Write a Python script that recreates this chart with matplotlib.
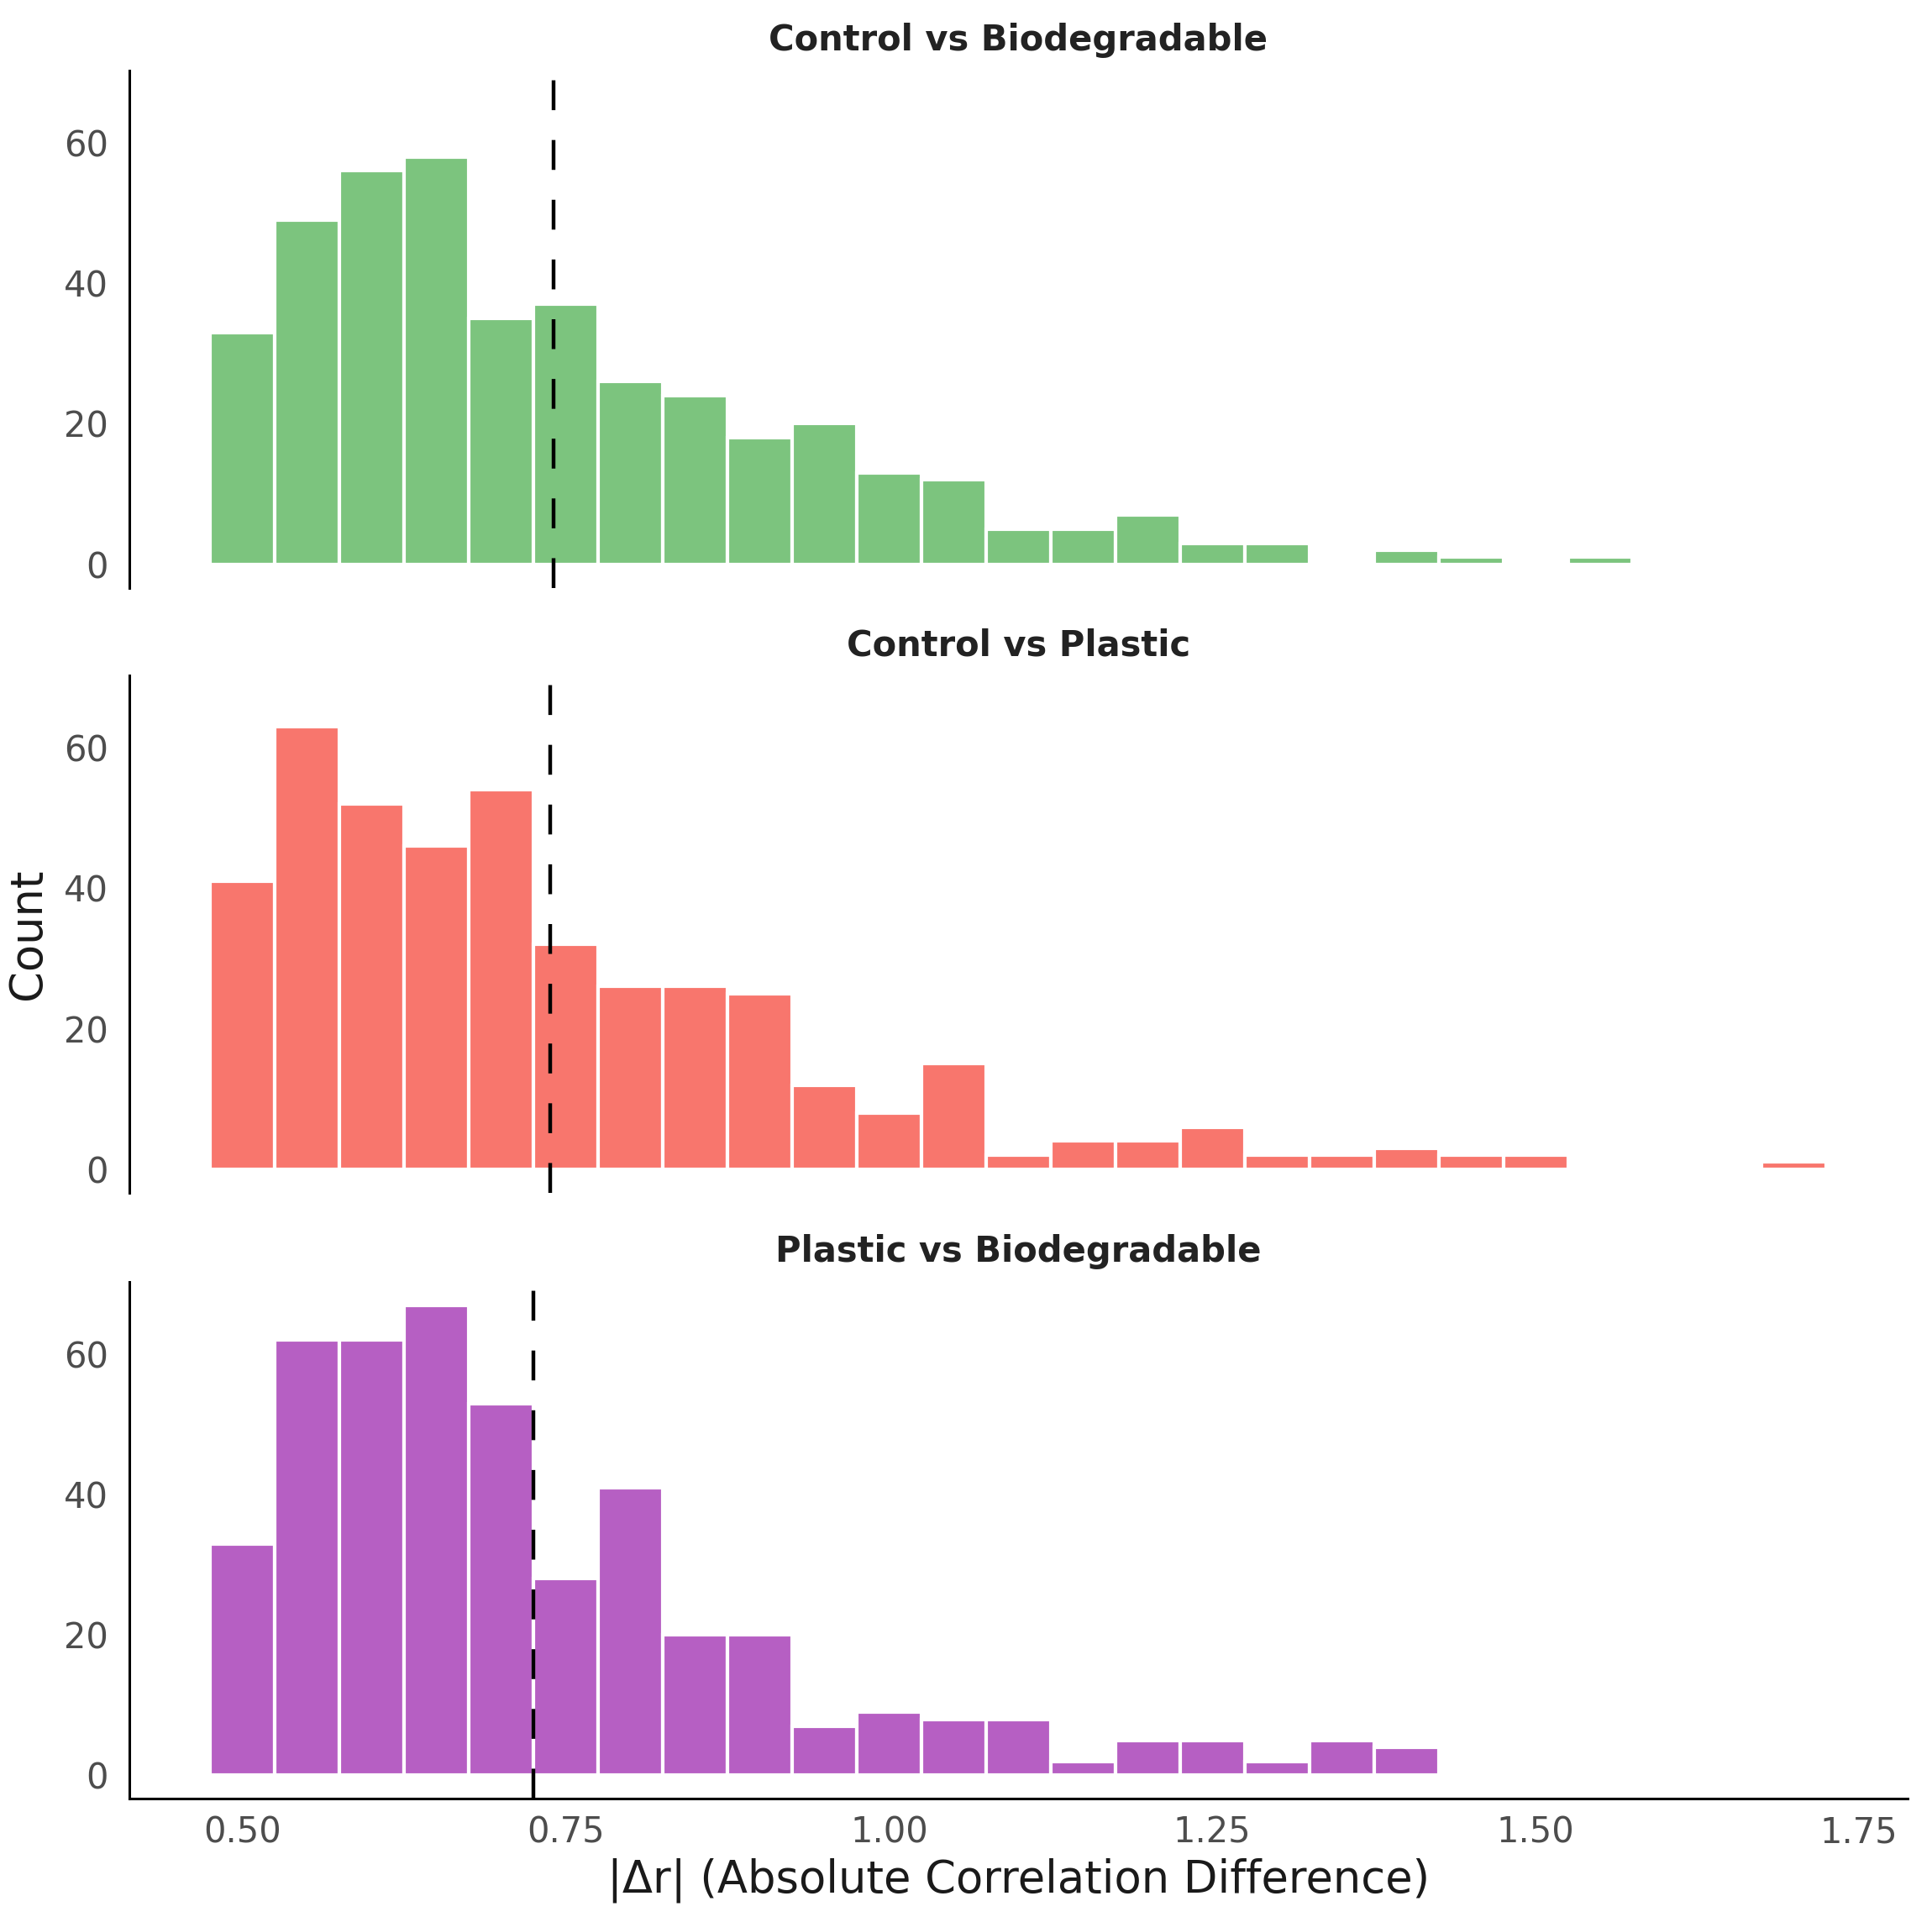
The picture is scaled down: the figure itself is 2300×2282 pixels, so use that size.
import numpy as np
import matplotlib
matplotlib.use("Agg")
import matplotlib.pyplot as plt

# ── data ─────────────────────────────────────────────────────────
# histogram bins (binwidth 0.05), counts
bin_start = 0.475
bin_width = 0.05

titles = ["Control vs Biodegradable", "Control vs Plastic", "Plastic vs Biodegradable"]
colors = ["#7CC47E", "#F8766D", "#B65FC3"]

counts_ctrl_bio = [33, 49, 56, 58, 35, 37, 26, 24, 18, 20, 13, 12, 5, 5, 7, 3, 3,
                   0, 2, 1, 0, 1]
counts_ctrl_plastic = [41, 63, 52, 46, 54, 32, 26, 26, 25, 12, 8, 15, 2, 4, 4, 6,
                       2, 2, 3, 2, 2, 0, 0, 0, 1]
counts_plastic_bio = [33, 62, 62, 67, 53, 28, 41, 20, 20, 7, 9, 8, 8, 2, 5, 5, 2,
                      5, 4]

# dashed reference line per panel (median |dr|)
medians = [0.7405, 0.7376, 0.7249]

all_counts = [counts_ctrl_bio, counts_ctrl_plastic, counts_plastic_bio]

# ── figure ───────────────────────────────────────────────────────
W, H = 2300, 2282
fig = plt.figure(figsize=(W / 100, H / 100), dpi=100)

left, right = 0.0670, 0.9872
panels = [(0.6934, 0.9634), (0.3778, 0.6478), (0.0616, 0.3315)]

axes = []
for i, (bot, top) in enumerate(panels):
    ax = fig.add_axes([left, bot, right - left, top - bot])
    axes.append(ax)
    counts = np.array(all_counts[i])
    edges = bin_start + bin_width * np.arange(len(counts))
    ax.bar(edges, counts, width=bin_width, align="edge", color=colors[i],
           edgecolor="white", linewidth=3.0, zorder=2)
    ax.axvline(medians[i], color="black", linewidth=3.2,
               linestyle=(0, (8, 8)), zorder=3)

    ax.set_xlim(0.4125, 1.7875)
    ax.set_ylim(-3.35, 70.35)
    ax.set_yticks([0, 20, 40, 60])
    ax.set_xticks([0.50, 0.75, 1.00, 1.25, 1.50, 1.75])
    ax.tick_params(axis="both", length=0, labelsize=30, labelcolor="#4D4D4D")
    ax.tick_params(axis="y", pad=18)
    ax.tick_params(axis="x", pad=14)

    for s in ["top", "right"]:
        ax.spines[s].set_visible(False)
    ax.spines["left"].set_linewidth(2.2)
    ax.spines["bottom"].set_linewidth(2.2)
    if i < 2:
        ax.spines["bottom"].set_visible(False)
        ax.tick_params(axis="x", labelbottom=False)
    else:
        ax.set_xticklabels(["0.50", "0.75", "1.00", "1.25", "1.50", "1.75"])

    ax.set_title(titles[i], fontsize=30, fontweight="bold", color="#222222", pad=17)

axes[2].set_xlabel("|\u0394r| (Absolute Correlation Difference)", fontsize=38,
                   color="#1A1A1A", labelpad=6)
fig.text(0.0145, 0.5 * (panels[1][0] + panels[1][1]), "Count", rotation=90,
         fontsize=38, color="#1A1A1A", ha="center", va="center")

fig.savefig("out.png", dpi=100)
